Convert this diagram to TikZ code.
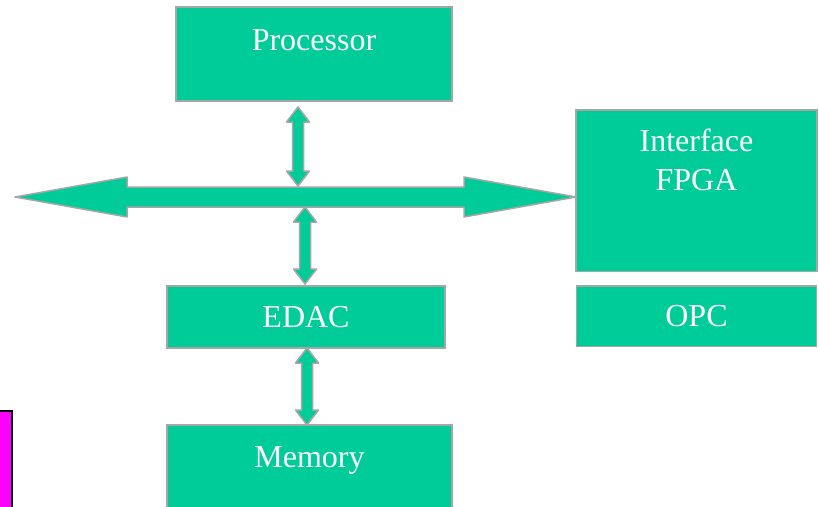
\documentclass[tikz,border=0pt]{standalone}
\usepackage{fontspec}
\setmainfont{Liberation Serif}
\usepackage{xcolor}
\usepackage{tikz}
\usetikzlibrary{positioning,calc}
\definecolor{boxgreen}{RGB}{0,204,153}
\definecolor{boxgray}{RGB}{166,166,166}
\definecolor{tagpink}{RGB}{255,0,255}
\newcommand{\boxfont}{\fontsize{32}{39}\selectfont}
% fat two-headed arrow: tip, tip, half shaft, half head, head length
\newcommand{\fatarrow}[5]{%
  \filldraw[fatline]
    (#1) -- ($(#1)!#5!(#2)!#4!90:(#2)$) -- ($(#1)!#5!(#2)!#3!90:(#2)$)
    -- ($(#2)!#5!(#1)!#3!-90:(#1)$) -- ($(#2)!#5!(#1)!#4!-90:(#1)$)
    -- (#2) -- ($(#2)!#5!(#1)!#4!90:(#1)$) -- ($(#2)!#5!(#1)!#3!90:(#1)$)
    -- ($(#1)!#5!(#2)!#3!-90:(#2)$) -- ($(#1)!#5!(#2)!#4!-90:(#2)$) -- cycle;}
\tikzset{
  box/.style={draw=boxgray, fill=boxgreen, line width=1.5pt, outer sep=0pt, inner sep=0pt,
    text=white, font=\boxfont, align=center},
  boxtext/.style={anchor=north, inner sep=0pt, yshift=-20pt, text=white, font=\boxfont, align=center},
  fatline/.style={draw=boxgray, fill=boxgreen, line width=1.5pt, line join=round},
  tag/.style={draw=black, fill=tagpink, line width=1.5pt}
}
\begin{document}
\begin{tikzpicture}[x=1pt, y=-1pt]
  \useasboundingbox (0,0) rectangle (819,506);

  \node[box, minimum width=276pt, minimum height=94pt,
        label={[boxtext, yshift=-2.5pt]north:Processor}] (proc) at (314,54) {};
  \node[box, minimum width=241pt, minimum height=161.5pt,
        label={[boxtext, yshift=1pt]north:Interface\\FPGA}] (fpga) at (696.5,190.75) {};
  \node[box, below=14.5pt of fpga, minimum width=240pt, minimum height=60.5pt] (opc) {OPC};
  \node[box, minimum width=278pt, minimum height=62pt] (edac) at (306,317) {EDAC};
  \node[box, below=77pt of edac, xshift=3.5pt, minimum width=285pt, minimum height=120pt,
        label={[boxtext, yshift=-1pt]north:Memory}] (mem) {};

  \filldraw[tag] (-5,411) rectangle (12,520);

  % bus
  \coordinate (busl) at (15,197);
  \coordinate (busr) at (fpga.west |- busl);
  \fatarrow{busl}{busr}{10pt}{20pt}{112pt}

  % processor <-> bus
  \coordinate (up) at ([xshift=-16pt, yshift=-6pt]proc.south);
  \coordinate (upb) at ($(up |- busl)+(0,-11)$);
  \fatarrow{up}{upb}{5.5pt}{11.5pt}{15pt}

  % bus <-> edac
  \coordinate (dn) at ([xshift=-1pt, yshift=2pt]edac.north);
  \coordinate (dnb) at ($(dn |- busl)+(0,10)$);
  \fatarrow{dnb}{dn}{5.5pt}{11.5pt}{15pt}

  % edac <-> memory
  \coordinate (ed) at ([xshift=1pt]edac.south);
  \coordinate (me) at (ed |- mem.north);
  \fatarrow{ed}{me}{5.5pt}{11.5pt}{15pt}
\end{tikzpicture}
\end{document}
